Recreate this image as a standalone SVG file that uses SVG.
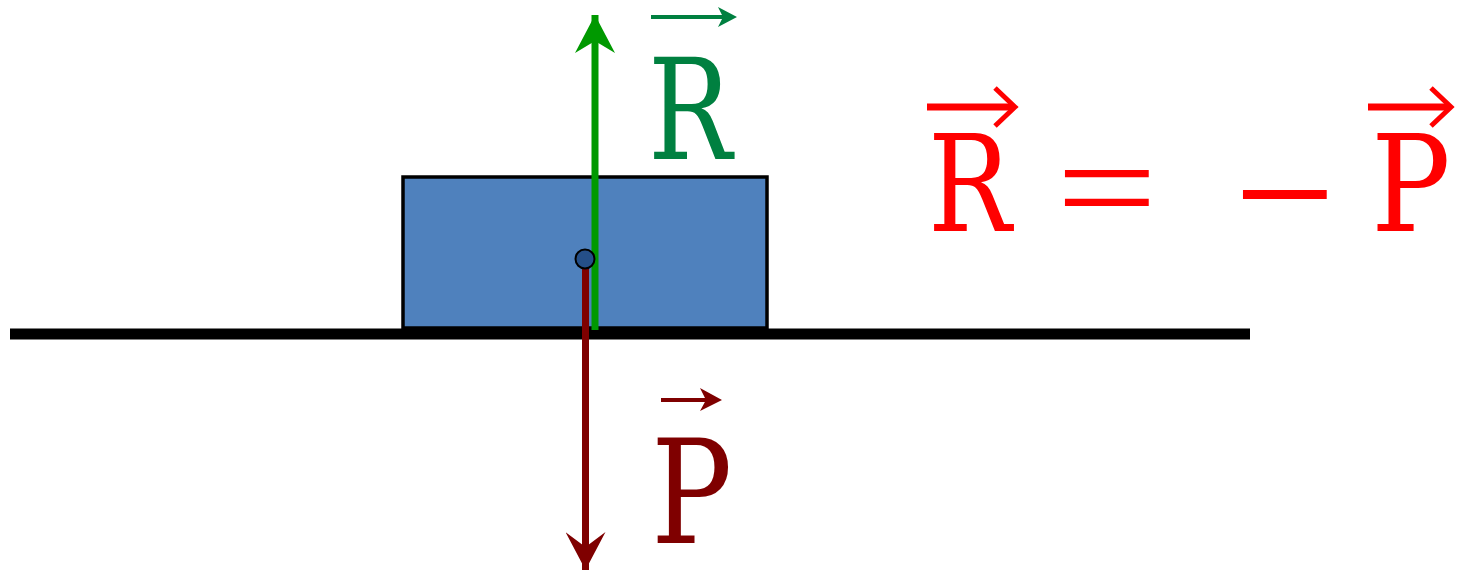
<svg xmlns="http://www.w3.org/2000/svg" width="1464" height="571" viewBox="0 0 1464 571">
<style>
.ser{font-family:'DejaVu Serif',serif}
.lib{font-family:'Liberation Serif',serif}
.green{fill:#008040}
.dred{fill:#7f0000}
.red{fill:#ff0000}
.chev{fill:none;stroke:#ff0000;stroke-width:5}
</style>
<defs>
<marker id="hg" viewBox="0 0 40 40" refX="38" refY="20" markerWidth="40" markerHeight="40" markerUnits="userSpaceOnUse" orient="auto"><path d="M0,0 L38,20 L0,40 L12,20 Z" fill="#009900"/></marker>
<marker id="hr" viewBox="0 0 40 40" refX="38" refY="20" markerWidth="40" markerHeight="40" markerUnits="userSpaceOnUse" orient="auto"><path d="M0,0 L38,20 L0,40 L15,20 Z" fill="#7f0000"/></marker>
</defs>
<rect width="1464" height="571" fill="#ffffff"/>
<g id="ground"><line x1="10" y1="334" x2="1250" y2="334" stroke="#000" stroke-width="11"/></g>
<g id="block"><rect x="403" y="177" width="364" height="151" fill="#4f81bd" stroke="#000" stroke-width="3.5"/></g>
<g id="connectors">
<line x1="595" y1="330" x2="595" y2="15" stroke="#009900" stroke-width="7" marker-end="url(#hg)"/>
<line x1="585.5" y1="262" x2="585.5" y2="570" stroke="#7f0000" stroke-width="7" marker-end="url(#hr)"/>
</g>
<g id="center"><circle cx="585" cy="259" r="9.5" fill="#254f88" stroke="#000" stroke-width="2"/></g>
<g id="label-R">
<text class="ser green" font-size="141" transform="translate(648,159) scale(0.79,1)">R</text>
<line x1="651" y1="17" x2="728" y2="17" stroke="#008040" stroke-width="4"/>
<path d="M718,7 L737,17 L718,27 L723,17 Z" fill="#008040"/>
</g>
<g id="label-P">
<text class="ser dred" font-size="144" transform="translate(651,543) scale(0.84,1)">P</text>
<line x1="661" y1="400" x2="714" y2="400" stroke="#7f0000" stroke-width="4"/>
<path d="M700,388 L722,400 L700,411 L706,400 Z" fill="#7f0000"/>
</g>
<g id="equation">
<text class="ser red" font-size="134" transform="translate(928,231) scale(0.826,1)">R</text>
<line x1="927" y1="107" x2="1012" y2="107" stroke="#ff0000" stroke-width="7"/>
<polyline class="chev" points="995,88 1015,107 995,126"/>
<text class="lib red" font-size="180" transform="translate(1056,235.5) scale(1,0.8)">=</text>
<text class="lib red" font-size="180" x="1234" y="254">−</text>
<text class="ser red" font-size="134" transform="translate(1371,231) scale(0.883,1)">P</text>
<line x1="1368" y1="107" x2="1448" y2="107" stroke="#ff0000" stroke-width="7"/>
<polyline class="chev" points="1431,88 1451,107 1431,126"/>
</g>
</svg>
